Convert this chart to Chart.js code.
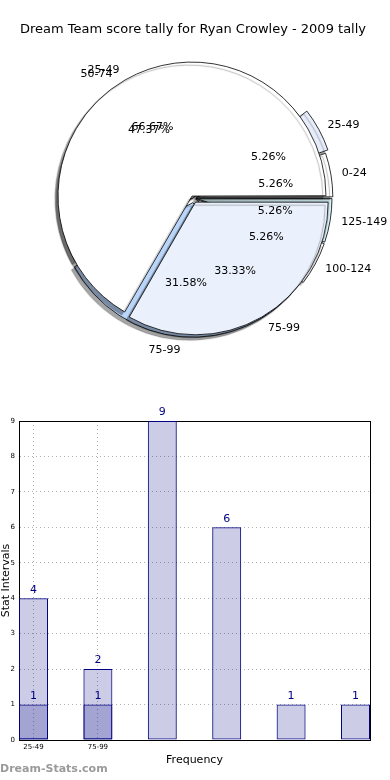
<!DOCTYPE html>
<html>
<head>
<meta charset="utf-8">
<script src="https://cdn.jsdelivr.net/npm/chart.js@4.4.1/dist/chart.umd.min.js"></script>
<style>
  body { margin: 0; background: #fff; }
  #page { position: relative; width: 390px; height: 780px; overflow: hidden; }
  .layer { position: absolute; left: 0; }
  #mark { position: absolute; left: 0; top: 762px; font: bold 11px 'DejaVu Sans'; color: #9a9a9a; }
</style>
</head>
<body>
<div id="page">
  <canvas id="pieBack" class="layer" width="390" height="370" style="top:0"></canvas>
  <canvas id="pieFront" class="layer" width="390" height="370" style="top:0"></canvas>
  <canvas id="bars" class="layer" width="390" height="380" style="top:400px"></canvas>
  <div id="mark">Dream-Stats.com</div>
</div>
<script>
const chartTitle = 'Dream Team score tally for Ryan Crowley - 2009 tally';

// pie underneath: all intervals
const allLabels = ['0-24', '25-49', '50-74', '75-99', '100-124', '125-149'];
const allCounts = [1, 1, 9, 6, 1, 1];
const allColors = ['#ffffff', '#e6ecfa', '#ffffff', '#b9d5fa', '#ffffff', '#d9f5fb'];
const allOffsets = [14, 22, 0, 20, 12, 12];

// pie on top: subset
const subLabels = ['25-49', '75-99'];
const subCounts = [2, 1];
const subColors = ['#ffffff', '#ebf1fc'];
const subOffsets = [8, 20];

// bars
const barTotals = [4, 2, 9, 6, 1, 1];
const barSubset = [1, 1];
const barTicks = ['25-49', '75-99'];

Chart.defaults.font.family = "'DejaVu Sans', sans-serif";
Chart.defaults.color = '#000';

// matplotlib goes counter-clockwise from 3 o'clock, chart.js clockwise -> reverse
const rev = a => a.slice().reverse();

const pieShadow = {
  id: 'pieShadow',
  beforeDatasetsDraw(chart) {
    const c = chart.ctx;
    c.save();
    c.shadowColor = 'rgba(0,0,0,0.35)';
    c.shadowOffsetX = -3;
    c.shadowOffsetY = 3;
    c.shadowBlur = 1;
  },
  afterDatasetsDraw(chart) { chart.ctx.restore(); }
};

function drawPieText(ctx, chart) {
  const meta = chart.getDatasetMeta(0);
  const vals = chart.data.datasets[0].data;
  const total = vals.reduce((a, b) => a + b, 0);
  ctx.save();
  ctx.font = "11px 'DejaVu Sans'";
  ctx.fillStyle = '#000';
  ctx.textBaseline = 'middle';
  meta.data.forEach((arc, i) => {
    const mid = (arc.startAngle + arc.endAngle) / 2;
    const cos = Math.cos(mid), sin = Math.sin(mid);
    const shift = (arc.options.offset || 0) / 4;
    const cx = arc.x + cos * shift, cy = arc.y + sin * shift;
    const r = arc.outerRadius;
    ctx.textAlign = 'center';
    ctx.fillText((vals[i] / total * 100).toFixed(2) + '%', cx + cos * r * 0.6, cy + sin * r * 0.6);
    ctx.textAlign = cos > 0 ? 'left' : 'right';
    ctx.fillText(chart.data.labels[i], cx + cos * r * 1.1, cy + sin * r * 1.1);
  });
  ctx.restore();
}

function pieOptions(titleColor) {
  return {
    responsive: false,
    animation: false,
    events: [],
    rotation: 90,
    layout: { padding: { bottom: 20, right: 4 } },
    plugins: {
      legend: { display: false },
      tooltip: { enabled: false },
      title: {
        display: true, text: chartTitle, color: titleColor,
        font: { size: 13, weight: 'normal' }, padding: { top: 22, bottom: 8 }
      }
    }
  };
}

const pieBack = new Chart(document.getElementById('pieBack'), {
  type: 'pie',
  data: {
    labels: rev(allLabels),
    datasets: [{
      data: rev(allCounts), backgroundColor: rev(allColors), offset: rev(allOffsets),
      radius: 134, borderColor: '#000', borderWidth: 0.8, borderJoinStyle: 'miter', hoverOffset: 0
    }]
  },
  options: pieOptions('#000'),
  plugins: [pieShadow]
});

new Chart(document.getElementById('pieFront'), {
  type: 'pie',
  data: {
    labels: rev(subLabels),
    datasets: [{
      data: rev(subCounts), backgroundColor: rev(subColors), offset: rev(subOffsets),
      radius: 132, borderColor: '#000', borderWidth: 0.8, borderJoinStyle: 'miter', hoverOffset: 0
    }]
  },
  options: pieOptions('rgba(0,0,0,0)'),
  plugins: [pieShadow, {
    id: 'pieText',
    afterDraw(chart) {
      // all texts sit above both pies
      drawPieText(chart.ctx, pieBack);
      drawPieText(chart.ctx, chart);
    }
  }]
});

const barValues = {
  id: 'barValues',
  afterDatasetsDraw(chart) {
    const ctx = chart.ctx;
    ctx.save();
    ctx.font = "11px 'DejaVu Sans'";
    ctx.fillStyle = '#000080';
    ctx.textAlign = 'center';
    ctx.textBaseline = 'bottom';
    chart.data.datasets.forEach((ds, di) => {
      chart.getDatasetMeta(di).data.forEach((bar, i) => {
        ctx.fillText(ds.data[i].y, bar.x, bar.y - 3);
      });
    });
    ctx.restore();
  }
};

const barStyle = {
  backgroundColor: 'rgba(0,0,128,0.2)', borderColor: '#000080', borderWidth: 1,
  borderSkipped: false, grouped: false, categoryPercentage: 1, barPercentage: 0.45
};

new Chart(document.getElementById('bars'), {
  type: 'bar',
  data: {
    datasets: [
      { ...barStyle, data: barSubset.map((v, i) => ({ x: i, y: v })), order: 0 },
      { ...barStyle, data: barTotals.map((v, i) => ({ x: i, y: v })), order: 1 }
    ]
  },
  options: {
    responsive: false,
    animation: false,
    events: [],
    layout: { padding: { top: 21, right: 20 } },
    plugins: { legend: { display: false }, tooltip: { enabled: false } },
    scales: {
      x: {
        type: 'linear', min: -0.225, max: 5.225, offset: false,
        afterBuildTicks: s => { s.ticks = barTicks.map((t, i) => ({ value: i })); },
        afterFit: s => { s.height = 40; },
        ticks: { callback: v => barTicks[v], font: { size: 7 }, padding: 3, maxRotation: 0, autoSkip: false },
        grid: { color: '#b0b0b0', drawTicks: false, offset: false },
        border: { color: '#000', dash: [1, 3] },
        title: { display: true, text: 'Frequency', font: { size: 11 }, padding: { top: 0, bottom: 13 } }
      },
      y: {
        min: 0, max: 9,
        afterFit: s => { s.width = 19; },
        ticks: { stepSize: 1, font: { size: 7 }, padding: 4 },
        grid: { color: '#b0b0b0', drawTicks: false },
        border: { color: '#000', dash: [1, 3] },
        title: { display: true, text: 'Stat Intervals', font: { size: 11 }, padding: 0 }
      },
      x2: {
        type: 'linear', position: 'top',
        afterFit: s => { s.height = 0; },
        ticks: { display: false }, grid: { display: false }, border: { color: '#000' }
      },
      y2: {
        type: 'linear', position: 'right',
        afterFit: s => { s.width = 0; },
        ticks: { display: false }, grid: { display: false }, border: { color: '#000' }
      }
    }
  },
  plugins: [barValues]
});
</script>
</body>
</html>
